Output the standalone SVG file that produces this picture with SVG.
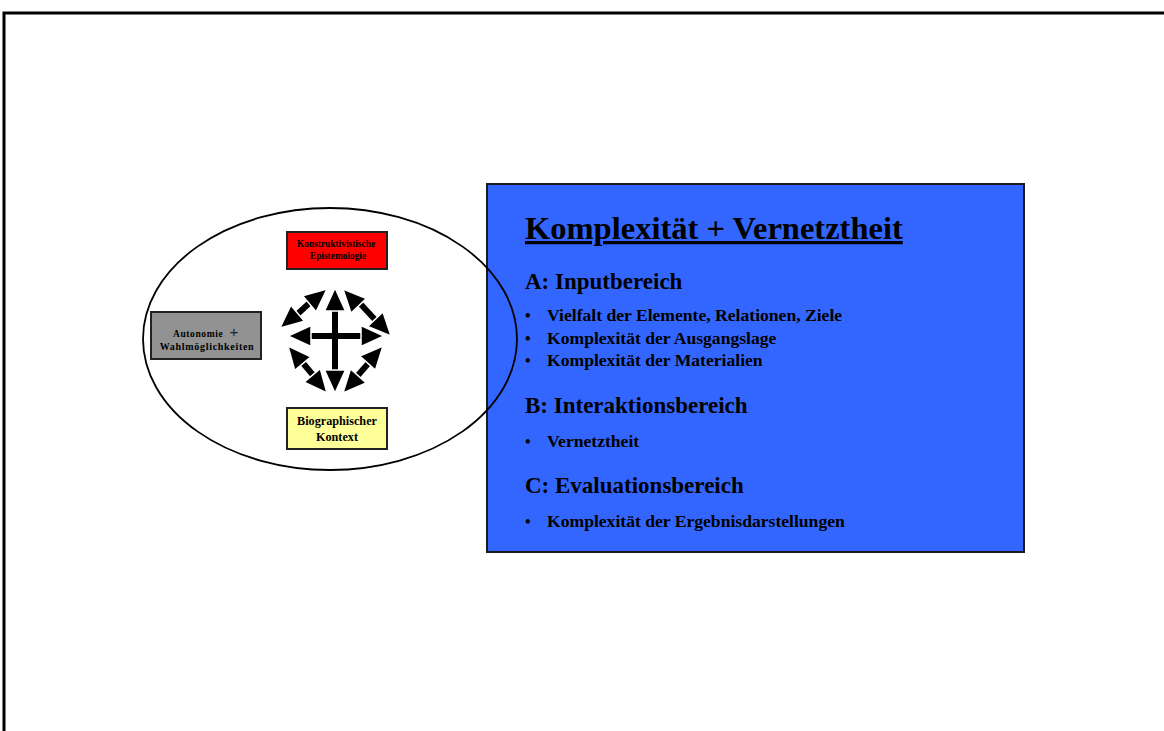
<svg xmlns="http://www.w3.org/2000/svg" width="1164" height="731" viewBox="0 0 1164 731">
  <style>
    .serif { font-family: "Liberation Serif", "Times New Roman", serif; font-weight: bold; fill: #000; }
    .dot { font-family: "Liberation Serif", "Times New Roman", serif; font-weight: bold; font-size: 16px; fill: #000; }
    .box { stroke: #222; stroke-width: 2; }
    .shaft { stroke: #000; stroke-width: 6; fill: none; }
    .head { fill: #000; stroke: #fff; stroke-width: 1.5; stroke-linejoin: miter; }
  </style>
  <defs>
    <!-- arrowhead pointing in +x, tip at origin -->
    <polygon id="tip" points="0,0 -23,-10.5 -23,10.5" class="head"/>
  </defs>
  <rect width="1164" height="731" fill="#fff"/>

  <!-- page frame -->
  <path d="M4,731 V13 H1164" fill="none" stroke="#000" stroke-width="3"/>

  <!-- content panel -->
  <g id="panel">
    <rect x="487" y="184" width="537" height="368" fill="#3366ff" stroke="#1a1a1a" stroke-width="2"/>
    <text class="serif" x="525" y="239" font-size="32.5" text-decoration="underline">Komplexität + Vernetztheit</text>
    <text class="serif" x="525" y="289" font-size="23">A: Inputbereich</text>
    <g font-size="17.6">
      <text class="dot" x="525" y="321">•</text>
      <text class="serif" x="547" y="321">Vielfalt der Elemente, Relationen, Ziele</text>
      <text class="dot" x="525" y="344">•</text>
      <text class="serif" x="547" y="344">Komplexität der Ausgangslage</text>
      <text class="dot" x="525" y="366">•</text>
      <text class="serif" x="547" y="366">Komplexität der Materialien</text>
    </g>
    <text class="serif" x="525" y="413" font-size="23">B: Interaktionsbereich</text>
    <g font-size="17.6">
      <text class="dot" x="525" y="447">•</text>
      <text class="serif" x="547" y="447">Vernetztheit</text>
    </g>
    <text class="serif" x="525" y="493" font-size="23">C: Evaluationsbereich</text>
    <g font-size="17.6">
      <text class="dot" x="525" y="527">•</text>
      <text class="serif" x="547" y="527">Komplexität der Ergebnisdarstellungen</text>
    </g>
  </g>

  <!-- enclosing ellipse -->
  <g id="ellipse">
    <ellipse cx="330" cy="339" rx="187" ry="131" fill="none" stroke="#000" stroke-width="1.8"/>
  </g>

  <g id="epistemologie">
    <rect class="box" x="287" y="232" width="100" height="37" fill="#ff0000"/>
    <text class="serif" x="336" y="247" font-size="9.4" text-anchor="middle" fill="#300">Konstruktivistische</text>
    <text class="serif" x="338" y="259" font-size="9.4" text-anchor="middle" fill="#300">Epistemologie</text>
  </g>

  <g id="autonomie">
    <rect class="box" x="151" y="312" width="110" height="47" fill="#929292"/>
    <text class="serif" x="173" y="337" font-size="9.5" fill="#222" letter-spacing="0.6">Autonomie</text>
    <text x="234" y="337" font-family="Liberation Sans, Arial, sans-serif" font-size="15" text-anchor="middle" fill="#222">+</text>
    <text class="serif" x="207" y="350" font-size="10" text-anchor="middle" fill="#222" letter-spacing="0.7">Wahlmöglichkeiten</text>
  </g>

  <g id="kontext">
    <rect class="box" x="287" y="408" width="100" height="41" fill="#ffff99"/>
    <text class="serif" x="337" y="425" font-size="12.2" text-anchor="middle" fill="#111">Biographischer</text>
    <text class="serif" x="337" y="441" font-size="12.2" text-anchor="middle" fill="#111">Kontext</text>
  </g>

  <!-- double-headed connectors between the factors -->
  <g id="connectors">
    <line class="shaft" x1="335" y1="300" x2="335" y2="381"/>
    <line class="shaft" x1="300" y1="336" x2="371" y2="336"/>
    <line class="shaft" x1="291" y1="320" x2="316" y2="297"/>
    <line class="shaft" x1="354" y1="297" x2="380" y2="325"/>
    <line class="shaft" x1="297" y1="356" x2="318" y2="381"/>
    <line class="shaft" x1="352" y1="382" x2="374" y2="357"/>

    <use href="#tip" transform="translate(335,288) rotate(-90)"/>
    <use href="#tip" transform="translate(335,393) rotate(90)"/>
    <use href="#tip" transform="translate(288,336) rotate(180)"/>
    <use href="#tip" transform="translate(384,336)"/>

    <use href="#tip" transform="translate(280,328) rotate(140)"/>
    <use href="#tip" transform="translate(327,289) rotate(-40)"/>
    <use href="#tip" transform="translate(343,289) rotate(-133)"/>
    <use href="#tip" transform="translate(391,336) rotate(47)"/>
    <use href="#tip" transform="translate(288,346) rotate(-130)"/>
    <use href="#tip" transform="translate(327,393) rotate(50)"/>
    <use href="#tip" transform="translate(343,393) rotate(132)"/>
    <use href="#tip" transform="translate(383,346) rotate(-48)"/>
  </g>
</svg>
